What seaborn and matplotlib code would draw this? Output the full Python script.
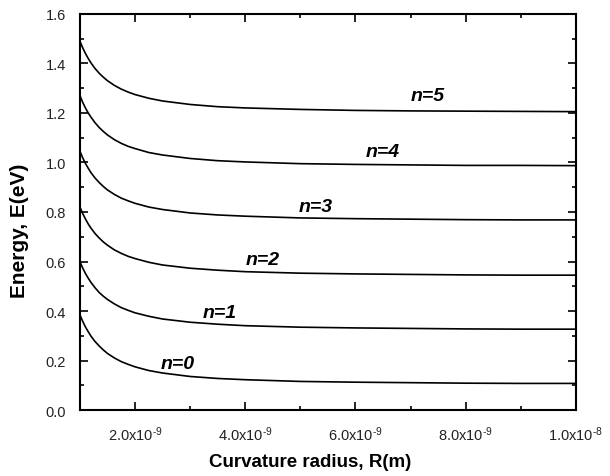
import numpy as np
import pandas as pd
import matplotlib
matplotlib.use('Agg')
import matplotlib.pyplot as plt
import seaborn as sns
from matplotlib.ticker import MultipleLocator, FixedLocator

# Curvature radius (m)
radius = [1.0e-9, 1.05e-9, 1.1e-9, 1.15e-9, 1.2e-9, 1.275e-9, 1.35e-9, 1.425e-9, 1.5e-9,
          1.625e-9, 1.75e-9, 1.875e-9, 2.0e-9, 2.25e-9, 2.5e-9, 3.0e-9, 3.5e-9,
          4.0e-9, 5.0e-9, 6.0e-9, 7.0e-9, 8.0e-9, 9.0e-9, 1.0e-8]

# Energy levels (eV)
e_n0 = [0.385, 0.359, 0.336, 0.317, 0.299, 0.277, 0.259, 0.243, 0.229,
        0.211, 0.196, 0.185, 0.175, 0.160, 0.150, 0.136, 0.128,
        0.123, 0.116, 0.113, 0.111, 0.109, 0.108, 0.108]
e_n1 = [0.600, 0.574, 0.552, 0.533, 0.516, 0.494, 0.475, 0.460, 0.447,
        0.429, 0.414, 0.403, 0.393, 0.379, 0.368, 0.355, 0.347,
        0.341, 0.335, 0.332, 0.330, 0.328, 0.327, 0.327]
e_n2 = [0.820, 0.794, 0.772, 0.752, 0.735, 0.713, 0.695, 0.679, 0.666,
        0.647, 0.633, 0.621, 0.612, 0.597, 0.586, 0.573, 0.565,
        0.559, 0.553, 0.550, 0.548, 0.546, 0.545, 0.545]
e_n3 = [1.045, 1.019, 0.996, 0.977, 0.959, 0.937, 0.919, 0.903, 0.889,
        0.871, 0.856, 0.845, 0.835, 0.820, 0.810, 0.796, 0.788,
        0.783, 0.776, 0.773, 0.771, 0.769, 0.768, 0.768]
e_n4 = [1.270, 1.243, 1.220, 1.200, 1.183, 1.160, 1.141, 1.125, 1.111,
        1.092, 1.077, 1.065, 1.056, 1.040, 1.030, 1.016, 1.007,
        1.002, 0.995, 0.992, 0.990, 0.988, 0.988, 0.987]
e_n5 = [1.490, 1.463, 1.440, 1.420, 1.402, 1.379, 1.360, 1.344, 1.330,
        1.311, 1.296, 1.284, 1.274, 1.259, 1.248, 1.234, 1.225,
        1.220, 1.214, 1.210, 1.208, 1.207, 1.206, 1.205]

levels = ['n=0', 'n=1', 'n=2', 'n=3', 'n=4', 'n=5']
energies = [e_n0, e_n1, e_n2, e_n3, e_n4, e_n5]

# label anchor positions (R, E)
label_r = [2.78e-9, 3.54e-9, 4.32e-9, 5.28e-9, 6.50e-9, 7.32e-9]
label_e = [0.190, 0.396, 0.610, 0.824, 1.046, 1.269]

xticks = [2e-9, 4e-9, 6e-9, 8e-9, 1e-8]
xticklabels = [r'2.0x10$^{\text{-}9}$', r'4.0x10$^{\text{-}9}$', r'6.0x10$^{\text{-}9}$',
               r'8.0x10$^{\text{-}9}$', r'1.0x10$^{\text{-}8}$']

rows = []
for lev, vals in zip(levels, energies):
    for r, e in zip(radius, vals):
        rows.append({'R': r, 'E': e, 'level': lev})
df = pd.DataFrame(rows)

sns.set_style('ticks')
plt.rcParams['font.family'] = ['Liberation Sans', 'DejaVu Sans']
plt.rcParams['mathtext.fontset'] = 'custom'
plt.rcParams['mathtext.rm'] = 'Liberation Sans'
plt.rcParams['mathtext.it'] = 'Liberation Sans:italic'
plt.rcParams['text.color'] = 'black'
plt.rcParams['axes.labelcolor'] = 'black'
plt.rcParams['axes.edgecolor'] = 'black'
plt.rcParams['xtick.color'] = 'black'
plt.rcParams['ytick.color'] = 'black'

fig = plt.figure(figsize=(6.1, 4.77), dpi=100)
ax = fig.add_axes([0.131, 0.138, 0.813, 0.831])

sns.lineplot(data=df, x='R', y='E', hue='level', palette=['black'] * 6,
             estimator=None, legend=False, linewidth=1.2, ax=ax)

for lev, r, e in zip(levels, label_r, label_e):
    ax.text(r, e, lev, fontsize=14, fontweight='bold', fontstyle='italic',
            ha='center', va='center', color='black')

ax.set_xlim(1e-9, 1e-8)
ax.set_ylim(0, 1.6)
ax.xaxis.set_major_locator(FixedLocator(xticks))
ax.set_xticklabels(xticklabels)
ax.xaxis.set_minor_locator(MultipleLocator(1e-9))
ax.yaxis.set_major_locator(MultipleLocator(0.2))
ax.yaxis.set_minor_locator(MultipleLocator(0.1))
ax.yaxis.set_major_formatter(plt.FormatStrFormatter('%.1f'))

ax.tick_params(which='both', direction='in', top=True, right=True,
               labelsize=10.5, width=1.2, labelcolor='#222222')
ax.tick_params(which='major', length=6, pad=10)
ax.tick_params(which='minor', length=3)
for sp in ax.spines.values():
    sp.set_linewidth(1.5)

ax.set_xlabel('Curvature radius, R(m)', fontsize=13.5, fontweight='bold')
ax.set_ylabel('Energy, E(eV)', fontsize=15, fontweight='bold')
ax.xaxis.set_label_coords(0.464, -0.108)
ax.yaxis.set_label_coords(-0.102, 0.455)

fig.savefig('out.png', dpi=100)
